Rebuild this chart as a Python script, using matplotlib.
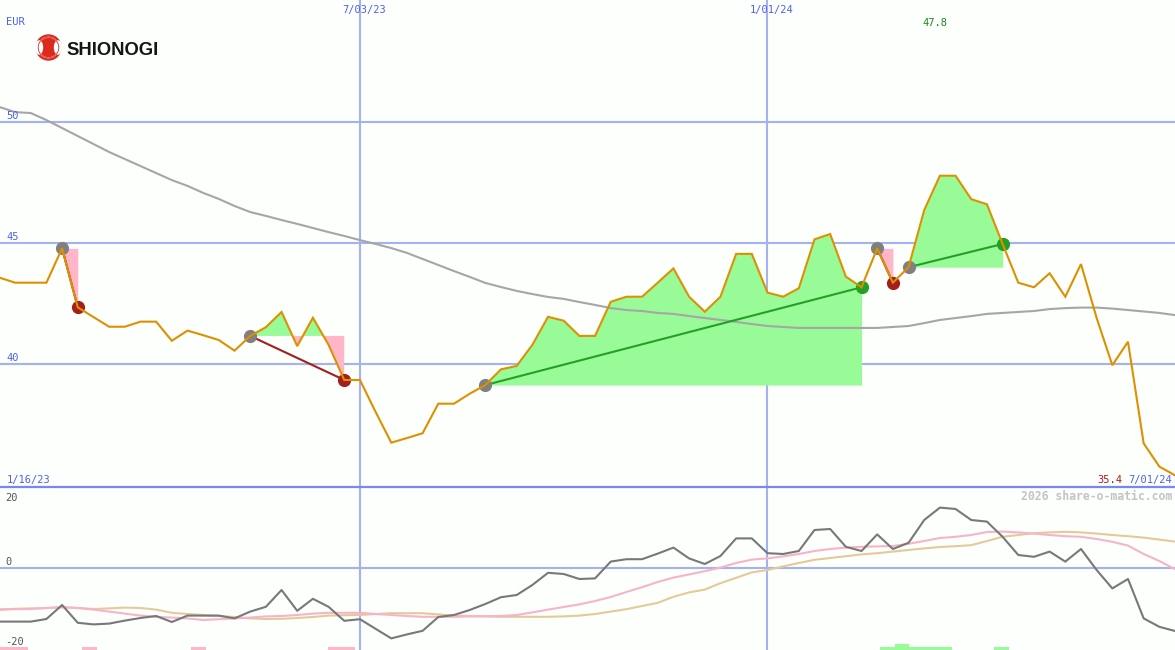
import numpy as np
import pandas as pd
import matplotlib
matplotlib.use("Agg")
import matplotlib.pyplot as plt
from matplotlib.patches import Circle, Ellipse
from matplotlib.lines import Line2D
from matplotlib.transforms import IdentityTransform, blended_transform_factory

# ---------------- data ----------------
dates = pd.date_range("2023-01-16", periods=77, freq="7D")

price = [43.8, 43.57, 43.36, 43.36, 43.36, 44.78, 42.34, 41.94, 41.54, 41.54,
         41.75, 41.75, 40.96, 41.38, 41.19, 40.99, 40.55, 41.16, 41.52, 42.15,
         40.74, 41.91, 40.79, 39.34, 39.34, 38.02, 36.75, 36.94, 37.14, 38.36,
         38.36, 38.77, 39.13, 39.78, 39.92, 40.79, 41.95, 41.79, 41.16, 41.16,
         42.57, 42.78, 42.78, 43.36, 43.95, 42.78, 42.16, 42.78, 44.55, 44.55,
         42.95, 42.78, 43.13, 45.15, 45.37, 43.61, 43.17, 44.78, 43.36, 44.00,
         46.36, 47.78, 47.78, 46.81, 46.60, 44.96, 43.36, 43.17, 43.75, 42.78,
         44.13, 41.90, 39.95, 40.92, 36.72, 35.76, 35.40]

ma_long = [50.80, 50.62, 50.41, 50.37, 50.08, 49.75, 49.42, 49.09, 48.76, 48.47,
           48.18, 47.89, 47.60, 47.36, 47.07, 46.82, 46.53, 46.28, 46.12, 45.95,
           45.79, 45.62, 45.45, 45.29, 45.12, 44.96, 44.79, 44.59, 44.34, 44.09,
           43.84, 43.60, 43.35, 43.18, 43.02, 42.89, 42.77, 42.69, 42.56, 42.44,
           42.31, 42.23, 42.19, 42.11, 42.07, 41.98, 41.90, 41.82, 41.74, 41.65,
           41.57, 41.53, 41.49, 41.49, 41.49, 41.49, 41.49, 41.49, 41.53, 41.57,
           41.69, 41.82, 41.90, 41.98, 42.07, 42.11, 42.15, 42.19, 42.27, 42.31,
           42.33, 42.33, 42.29, 42.23, 42.17, 42.11, 42.02]

osc = [-13.4, -13.4, -13.4, -13.4, -12.75, -9.25, -13.7, -14.1, -13.9, -13.15,
       -12.5, -12.0, -13.5, -11.9, -11.9, -11.9, -12.6, -10.9, -9.7, -5.5,
       -10.7, -7.7, -9.7, -13.2, -12.8, -15.2, -17.6, -16.6, -15.7, -12.25,
       -11.75, -10.5, -9.0, -7.3, -6.75, -4.25, -1.2, -1.5, -2.75, -2.6,
       1.6, 2.2, 2.2, 3.6, 5.1, 2.4, 1.0, 3.0, 7.4, 7.4,
       3.7, 3.5, 4.25, 9.5, 9.75, 5.3, 4.25, 8.4, 4.75, 6.3,
       12.0, 15.1, 14.75, 12.0, 11.6, 7.8, 3.25, 2.8, 4.1, 1.6,
       4.75, -0.5, -5.1, -2.75, -12.6, -14.7, -15.75]

osc_fast = [-10.3, -10.3, -10.3, -10.25, -10.0, -9.8, -10.0, -10.4, -10.9, -11.4,
            -11.9, -12.2, -12.4, -12.6, -13.0, -12.8, -12.6, -12.4, -12.1, -12.0,
            -11.75, -11.4, -11.2, -11.2, -11.2, -11.5, -11.75, -12.0, -12.2, -12.2,
            -12.2, -12.1, -12.05, -12.0, -11.75, -11.1, -10.4, -9.75, -9.1, -8.25,
            -7.25, -6.0, -4.8, -3.5, -2.4, -1.6, -0.8, 0.1, 1.25, 2.1,
            2.4, 2.9, 3.5, 4.25, 4.75, 5.1, 5.3, 5.4, 5.5, 6.05,
            6.75, 7.5, 7.8, 8.25, 9.0, 9.1, 8.9, 8.6, 8.25, 7.95,
            7.8, 7.25, 6.55, 5.6, 3.5, 1.75, -0.3]

osc_slow = [-10.5, -10.5, -10.2, -10.1, -10.0, -9.8, -10.0, -10.25, -10.1, -9.9,
            -10.0, -10.4, -11.2, -11.5, -11.75, -12.0, -12.25, -12.6, -12.75, -12.7,
            -12.5, -12.25, -11.9, -11.8, -11.75, -11.5, -11.3, -11.3, -11.3, -11.6,
            -11.9, -12.0, -12.1, -12.2, -12.2, -12.2, -12.2, -12.1, -11.9, -11.5,
            -10.9, -10.3, -9.5, -8.7, -7.2, -6.1, -5.4, -3.8, -2.45, -1.1,
            -0.5, 0.4, 1.25, 2.05, 2.5, 2.95, 3.4, 3.7, 4.1, 4.5,
            4.9, 5.25, 5.45, 5.7, 6.75, 7.8, 8.25, 8.7, 8.9, 9.05,
            8.9, 8.6, 8.25, 7.95, 7.6, 7.1, 6.6]

trade_entry = [5, 17, 32, 57, 59]
trade_exit = [6, 23, 56, 58, 65]

# signal bars (week position start / end, height)
sell_bar_start = [0.5, 6.27, 13.22, 21.96]
sell_bar_end = [2.82, 7.23, 14.18, 23.69]
sell_bar_height = [0.75, 0.75, 0.75, 0.75]
buy_bar_start = [57.18, 58.13, 64.45]
buy_bar_end = [61.77, 59.03, 65.41]
buy_bar_height = [0.75, 1.5, 0.75]

date_lines = ["2023-07-03", "2024-01-01"]
price_ticks = [40, 45, 50]
osc_ticks = [20, 0, -20]
currency = "EUR"

# ---------------- style ----------------
W, H = 1175, 650
BG = "#fcfffc"
GRID = "#a4b2f2"
BORDER = "#7888ee"
BLUE_TXT = "#5060f0"
ORANGE = "#dd9000"
GRAY_MA = "#a6a6a6"
GREEN_FILL = "#98fb98"
PINK_FILL = "#ffb6c8"
MK_GRAY = "#808080"
MK_RED = "#a41e1e"
MK_GREEN = "#24a024"
MONO = "DejaVu Sans Mono"

fig = plt.figure(figsize=(W / 100, H / 100), dpi=100)
fig.patch.set_facecolor(BG)
split = 487
ax = fig.add_axes([0, (H - split) / H, 1, split / H])
ax2 = fig.add_axes([0, 0, 1, (H - split) / H])
for a in (ax, ax2):
    a.set_axis_off()
    a.patch.set_visible(False)

x = np.arange(len(price))
p = np.array(price)
px_week = 15.675
xlim = (1 + 0.6 / px_week, 1 + (W + 0.6) / px_week)
ax.set_xlim(*xlim)
ax2.set_xlim(*xlim)
ax.set_ylim(50 - 365 / 24.2, 50 + 122 / 24.2)
ax2.set_ylim(-20.5, 20.25)

date_idx = [int(np.where(dates == pd.Timestamp(d))[0][0]) for d in date_lines]


def fmt(d):
    return f"{d.month}/{d.day:02d}/{d.year % 100}"


# grid
for v in price_ticks:
    ax.axhline(v, color=GRID, lw=1.5, zorder=1)
ax2.axhline(0, color=GRID, lw=1.5, zorder=1)
for i in date_idx:
    ax.axvline(i, color=GRID, lw=1.5, zorder=1)
    ax2.axvline(i, color=GRID, lw=1.5, zorder=1)
fig.add_artist(Line2D([0, 1], [(H - split) / H] * 2, color=BORDER, lw=1.6, zorder=5))

# trade fills
for s, e in zip(trade_entry, trade_exit):
    xs = x[s:e + 1]
    ps = p[s:e + 1]
    lvl = p[s]
    ax.fill_between(xs, ps, lvl, where=ps >= lvl, interpolate=True,
                    color=GREEN_FILL, lw=0, zorder=2)
    ax.fill_between(xs, ps, lvl, where=ps <= lvl, interpolate=True,
                    color=PINK_FILL, lw=0, zorder=2)

ax.plot(x, ma_long, color=GRAY_MA, lw=1.5, zorder=3)

for s, e in zip(trade_entry, trade_exit):
    win = p[e] > p[s]
    ax.plot([s, e], [p[s], p[e]], color=MK_GREEN if win else MK_RED,
            lw=1.5, zorder=4)
    ax.plot([s], [p[s]], "o", ms=9.5, color=MK_GRAY, mew=0, zorder=4)
    ax.plot([e], [p[e]], "o", ms=9.5, color=MK_GREEN if win else MK_RED,
            mew=0, zorder=4)

ax.plot(x, p, color=ORANGE, lw=1.5, zorder=5, solid_joinstyle="miter")

# lower panel
ax2.plot(x, osc_slow, color="#e4ca98", lw=1.5, zorder=3)
ax2.plot(x, osc_fast, color="#f7b4c8", lw=1.5, zorder=3)
ax2.plot(x, osc, color="#787878", lw=1.5, zorder=4)
ax2.bar(sell_bar_start, sell_bar_height,
        width=np.array(sell_bar_end) - np.array(sell_bar_start),
        bottom=-20.5, align="edge", color=PINK_FILL, lw=0, zorder=2)
ax2.bar(buy_bar_start, buy_bar_height,
        width=np.array(buy_bar_end) - np.array(buy_bar_start),
        bottom=-20.5, align="edge", color=GREEN_FILL, lw=0, zorder=2)


# ---------------- texts ----------------
def ptxt(px, py, s, **kw):
    kw.setdefault("fontfamily", MONO)
    kw.setdefault("fontsize", 7.5)
    kw.setdefault("va", "baseline")
    fig.text(px / W, 1 - py / H, s, **kw)


ptxt(6, 25, currency, color=BLUE_TXT)
bt = blended_transform_factory(ax.transAxes, ax.transData)
for v in price_ticks:
    ax.annotate(f"{v}", xy=(0, v), xycoords=bt, xytext=(6, 3),
                textcoords="offset pixels", fontfamily=MONO, fontsize=7.5,
                color=BLUE_TXT, va="baseline", ha="left")
bt2 = blended_transform_factory(ax.transData, ax.transAxes)
for i in date_idx:
    ax.annotate(fmt(dates[i]), xy=(i, 1), xycoords=bt2, xytext=(4, -13),
                textcoords="offset pixels", fontfamily=MONO, fontsize=7.5,
                color=BLUE_TXT, va="baseline", ha="center")
imax = int(np.argmax(p))
ax.annotate(f"{p.max():.1f}", xy=(imax, 1), xycoords=bt2, xytext=(-5, -26),
            textcoords="offset pixels", fontfamily=MONO, fontsize=7.5,
            color="#1a8a1a", va="baseline", ha="center")
ptxt(7, 483, fmt(dates[0]), color=BLUE_TXT)
ptxt(1172, 483, fmt(dates[-1]), color=BLUE_TXT, ha="right")
ptxt(1122, 483, f"{p[-1]:.1f}", color=MK_RED, ha="right")
ptxt(1172, 500, "2026 share-o-matic.com", color="#c4c4c4", ha="right",
     fontsize=8.3, fontweight="bold")

bt3 = blended_transform_factory(ax2.transAxes, ax2.transData)
for v in osc_ticks:
    off = 3 if v < 20 else -13
    ax2.annotate(f"{v}", xy=(0, v), xycoords=bt3, xytext=(5, off),
                 textcoords="offset pixels", fontfamily=MONO, fontsize=7.5,
                 color="#555555", va="baseline", ha="left")

# ---------------- logo ----------------
idt = IdentityTransform()
cx, cy = 48.5, H - 47.5
fig.add_artist(Circle((cx, cy), 12.5, transform=idt, color="#dc2a1e", zorder=10))
fig.add_artist(Circle((cx, cy), 10.3, transform=idt, fill=False, ec="white",
                      lw=0.8, zorder=11))
fig.add_artist(Ellipse((cx - 9.5, cy), 7, 13, transform=idt, color="white", zorder=11))
fig.add_artist(Ellipse((cx + 9.5, cy), 7, 13, transform=idt, color="white", zorder=11))
fig.add_artist(Circle((cx, cy), 10.3, transform=idt, fill=False, ec="#dc2a1e",
                      lw=0.6, zorder=12))
fig.text(66 / W, 1 - 55 / H, "SHIONOGI", fontfamily="Liberation Sans",
         fontweight="bold", fontsize=13.3, color="#151515", va="baseline")

fig.savefig("out.png", dpi=100, facecolor=BG)
